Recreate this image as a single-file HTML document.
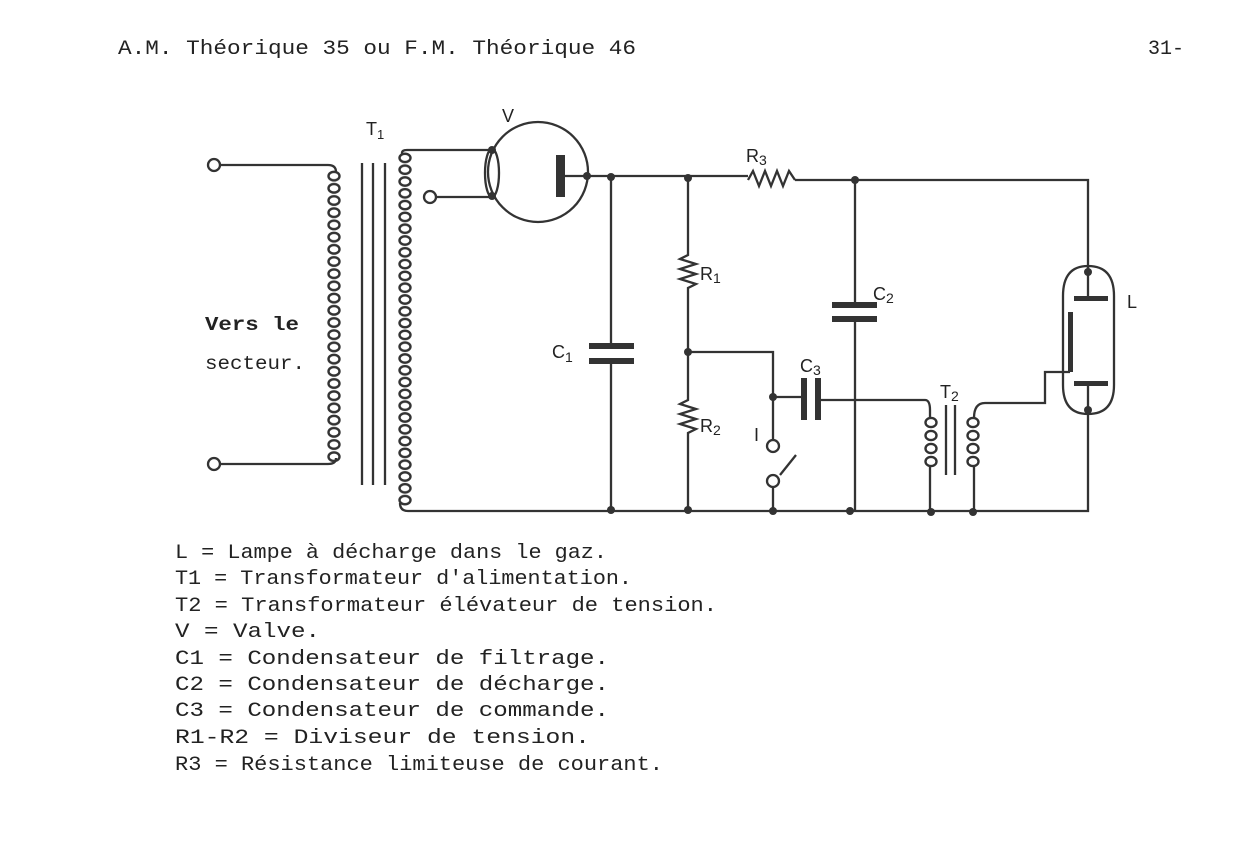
<!DOCTYPE html>
<html><head><meta charset="utf-8"><style>
body{margin:0;background:#fff}
svg{display:block}
text{font-family:"Liberation Mono","DejaVu Sans Mono",monospace;fill:#222}
.s{font-family:"Liberation Sans",sans-serif;fill:#222}
</style></head><body>
<svg width="1235" height="868" viewBox="0 0 1235 868">
<defs>
<pattern id="c1" x="327" y="170" width="14" height="12.2" patternUnits="userSpaceOnUse"><ellipse cx="7" cy="6.1" rx="5.5" ry="4.3" fill="none" stroke="#333" stroke-width="2.4"/></pattern>
<pattern id="c2" x="398" y="152" width="14" height="11.8" patternUnits="userSpaceOnUse"><ellipse cx="7" cy="5.9" rx="5.5" ry="4.2" fill="none" stroke="#333" stroke-width="2.4"/></pattern>
<pattern id="c3" x="924" y="416" width="14" height="13" patternUnits="userSpaceOnUse"><ellipse cx="7" cy="6.5" rx="5.5" ry="4.6" fill="none" stroke="#333" stroke-width="2.4"/></pattern>
</defs>
<rect width="1235" height="868" fill="#fff"/>
<text x="118" y="54" font-size="20" textLength="518" lengthAdjust="spacingAndGlyphs">A.M. Théorique 35  ou  F.M. Théorique 46</text>
<text x="1148" y="54" font-size="20">31-</text>

<g stroke="#333" stroke-width="2.3" fill="none">
<circle cx="214" cy="165" r="6" fill="#fff"/>
<circle cx="214" cy="464" r="6" fill="#fff"/>
<path d="M220 165 H328 Q336 165 336 172"/>
<path d="M220 464 H328 Q336 464 336 458"/>
<rect x="327" y="170" width="14" height="292" fill="url(#c1)" stroke="none"/>
<path d="M362 163 V485 M373 163 V485 M385 163 V485"/>
<rect x="398" y="152" width="14" height="354" fill="url(#c2)" stroke="none"/>
<path d="M402 155 V153 Q402 150 407 150 H492"/>
<path d="M400 503 Q400 511 408 511 H1088 V410"/>
<circle cx="430" cy="197" r="6" fill="#fff"/>
<path d="M436 197 H492"/>
<circle cx="538" cy="172" r="50"/>
<ellipse cx="492" cy="173" rx="7" ry="24"/>
<path d="M563 176 H748 M795 180 H1088 V272" />
<path d="M611 176 V347 M611 361 V511"/>
<path d="M688 178 V255 l-8 4 16 5 -16 5 16 5 -16 5 16 5 -8 4 V400 l-8 4 16 5 -16 5 16 5 -16 5 16 5 -8 4 V511"/>
<path d="M688 352 H773 V440"/>
<path d="M773 397 H805 M818 400 H925 Q930 400 930 410 V418"/>
<path d="M773 487 V511"/>
<path d="M780 475 L796 455"/>
<path d="M855 180 V305 M855 318 V511"/>
<rect x="924" y="416" width="14" height="52" fill="url(#c3)" stroke="none"/>
<rect x="966" y="416" width="14" height="52" fill="url(#c3)" stroke="none"/>
<path d="M930 466 V511 M974 466 V511"/>
<path d="M946 405 V475 M955 405 V475"/>
<path d="M974 418 Q974 403 985 403 H1045 V372 H1070"/>
<path d="M1063 296 Q1063 266 1088 266 Q1114 266 1114 296 V385 Q1114 414 1088 414 Q1063 414 1063 385 Z"/>
<path d="M1088 266 V298 M1088 383 V414"/>
<path d="M748 180 l5 -9 6 15 6 -15 6 15 6 -15 6 15 6 -15 6 9"/>
</g>
<g fill="#333">
<rect x="556" y="155" width="9" height="42"/>
<rect x="589" y="343" width="45" height="6"/><rect x="589" y="358" width="45" height="6"/>
<rect x="832" y="302" width="45" height="6"/><rect x="832" y="316" width="45" height="6"/>
<rect x="801" y="378" width="6" height="42"/><rect x="815" y="378" width="6" height="42"/>
<rect x="1074" y="296" width="34" height="5"/>
<rect x="1074" y="381" width="34" height="5"/>
<rect x="1068" y="312" width="5" height="60"/>
<circle cx="492" cy="150" r="4"/><circle cx="492" cy="196" r="4"/>
<circle cx="587" cy="176" r="4"/><circle cx="611" cy="177" r="4"/><circle cx="688" cy="178" r="4"/>
<circle cx="855" cy="180" r="4"/><circle cx="688" cy="352" r="4"/><circle cx="773" cy="397" r="4"/>
<circle cx="611" cy="510" r="4"/><circle cx="688" cy="510" r="4"/><circle cx="773" cy="511" r="4"/>
<circle cx="850" cy="511" r="4"/><circle cx="931" cy="512" r="4"/><circle cx="973" cy="512" r="4"/>
<circle cx="1088" cy="272" r="4"/><circle cx="1088" cy="410" r="4"/>
</g>
<g stroke="#333" stroke-width="2.3" fill="#fff">
<circle cx="773" cy="446" r="6"/><circle cx="773" cy="481" r="6"/>
</g>
<text class="s" x="366" y="135" font-size="18">T<tspan font-size="13" dy="4">1</tspan></text>
<text class="s" x="502" y="122" font-size="18">V</text>
<text class="s" x="746" y="162" font-size="18">R<tspan font-size="14" dy="3">3</tspan></text>
<text class="s" x="700" y="280" font-size="18">R<tspan font-size="14" dy="3">1</tspan></text>
<text class="s" x="700" y="432" font-size="18">R<tspan font-size="14" dy="3">2</tspan></text>
<text class="s" x="552" y="358" font-size="18">C<tspan font-size="14" dy="4">1</tspan></text>
<text class="s" x="873" y="300" font-size="18">C<tspan font-size="14" dy="3">2</tspan></text>
<text class="s" x="800" y="372" font-size="18">C<tspan font-size="14" dy="3">3</tspan></text>
<text class="s" x="940" y="398" font-size="18">T<tspan font-size="14" dy="3">2</tspan></text>
<text class="s" x="754" y="441" font-size="18">I</text>
<text class="s" x="1127" y="308" font-size="18">L</text>
<text x="205" y="330" font-size="19" font-weight="bold" textLength="94" lengthAdjust="spacingAndGlyphs">Vers le</text>
<text x="205" y="369" font-size="19" textLength="100" lengthAdjust="spacingAndGlyphs">secteur.</text>
<g font-size="20">
<text x="175" y="558" textLength="432" lengthAdjust="spacingAndGlyphs">L  = Lampe à décharge dans le gaz.</text>
<text x="175" y="584" textLength="457" lengthAdjust="spacingAndGlyphs">T1 = Transformateur d'alimentation.</text>
<text x="175" y="611" textLength="542" lengthAdjust="spacingAndGlyphs">T2 = Transformateur élévateur de tension.</text>
<text x="175" y="637" textLength="145" lengthAdjust="spacingAndGlyphs">V  = Valve.</text>
<text x="175" y="664" textLength="434" lengthAdjust="spacingAndGlyphs">C1 = Condensateur de filtrage.</text>
<text x="175" y="690" textLength="434" lengthAdjust="spacingAndGlyphs">C2 = Condensateur de décharge.</text>
<text x="175" y="716" textLength="434" lengthAdjust="spacingAndGlyphs">C3 = Condensateur de commande.</text>
<text x="175" y="743" textLength="415" lengthAdjust="spacingAndGlyphs">R1-R2 = Diviseur de tension.</text>
<text x="175" y="770" textLength="488" lengthAdjust="spacingAndGlyphs">R3 = Résistance limiteuse de courant.</text>
</g>
</svg>
</body></html>
